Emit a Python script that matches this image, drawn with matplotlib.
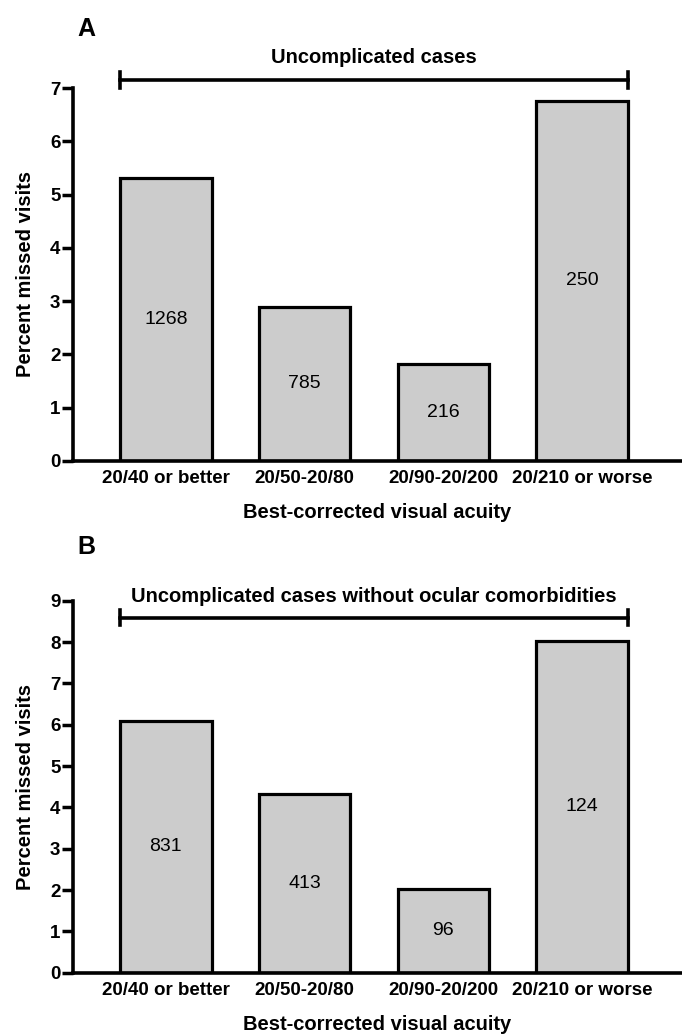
import matplotlib.pyplot as plt

plt.rcParams['font.family'] = ['Liberation Sans', 'DejaVu Sans']

categories = ["20/40 or better", "20/50-20/80", "20/90-20/200", "20/210 or worse"]
pct_a = [5.32, 2.89, 1.81, 6.76]
n_a = [1268, 785, 216, 250]
pct_b = [6.09, 4.32, 2.02, 8.03]
n_b = [831, 413, 96, 124]

panels = [
    ("Uncomplicated cases", pct_a, n_a, 7, 7.16, 7.57),
    ("Uncomplicated cases without ocular comorbidities", pct_b, n_b, 9, 8.59, 9.09),
]


def draw_panel(ax, title, pct, counts, ymax, bracket_y, title_y):
    x = list(range(len(categories)))
    ax.bar(x, pct, width=0.66, color="#cccccc", edgecolor="black", linewidth=2.3)
    for xi, p, n in zip(x, pct, counts):
        ax.text(xi, p / 2, str(n), ha="center", va="center", fontsize=14)

    ax.set_xlim(-0.67, 3.72)
    ax.set_ylim(0, ymax)
    ax.set_yticks(range(ymax + 1))
    ax.set_xticks(x)
    ax.set_xticklabels(categories, fontsize=13.5, fontweight="bold")
    ax.tick_params(axis="x", length=0, pad=7)
    ax.tick_params(axis="y", length=8, width=2.5, labelsize=13.5, pad=1)
    for lbl in ax.get_yticklabels():
        lbl.set_fontweight("bold")
    for side in ["top", "right"]:
        ax.spines[side].set_visible(False)
    for side in ["left", "bottom"]:
        ax.spines[side].set_linewidth(2.6)

    ax.set_ylabel("Percent missed visits", fontsize=14.5, fontweight="bold", labelpad=11)
    ax.set_xlabel("Best-corrected visual acuity", fontsize=14.5, fontweight="bold", labelpad=11)

    # bracket over all groups
    left, right = -0.33, 3.33
    ax.plot([left, right], [bracket_y, bracket_y], color="black", lw=2.6, clip_on=False)
    cap = ymax * 0.021
    for xe in (left, right):
        ax.plot([xe, xe], [bracket_y - cap, bracket_y + cap], color="black", lw=2.6, clip_on=False)
    ax.text((left + right) / 2, title_y, title, ha="center", va="center",
            fontsize=14.5, fontweight="bold", clip_on=False)


fig = plt.figure(figsize=(6.82, 10.36), dpi=100)
ax_a = fig.add_axes([0.107, 0.5553, 0.893, 0.3595])
ax_b = fig.add_axes([0.107, 0.0611, 0.893, 0.3591])

for ax, (title, pct, counts, ymax, by, ty) in zip([ax_a, ax_b], panels):
    draw_panel(ax, title, pct, counts, ymax, by, ty)

fig.text(0.113, 0.972, "A", fontsize=18, fontweight="bold", va="center")
fig.text(0.113, 0.472, "B", fontsize=18, fontweight="bold", va="center")

fig.savefig("out.png", dpi=100)
